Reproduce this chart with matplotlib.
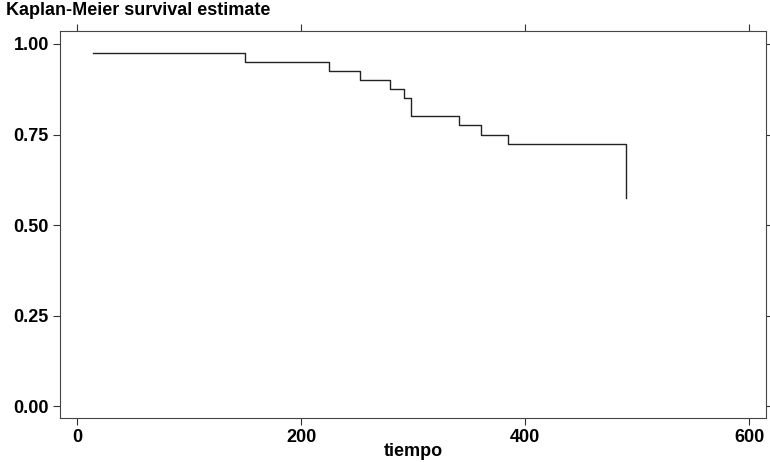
import matplotlib
matplotlib.use("Agg")
import matplotlib.pyplot as plt

# step times and survival estimates
tiempo = [14, 150, 225, 253, 279, 292, 298, 341, 361, 385, 490]
surv = [0.975, 0.950, 0.925, 0.900, 0.875, 0.850, 0.800, 0.775, 0.750, 0.725, 0.575]
xticks = [0, 200, 400, 600]
yticks = [0.00, 0.25, 0.50, 0.75, 1.00]
ylabels = ["0.00", "0.25", "0.50", "0.75", "1.00"]

plt.rcParams['font.family'] = ['Liberation Sans', 'DejaVu Sans']

fig = plt.figure(figsize=(7.7, 4.62), dpi=100)
ax = fig.add_axes([0.078, 0.095, 0.917, 0.838])

# step function: flat segments then drop at each time
xs = [tiempo[0]]
ys = [surv[0]]
for i in range(1, len(tiempo)):
    xs.append(tiempo[i])
    ys.append(surv[i - 1])
    xs.append(tiempo[i])
    ys.append(surv[i])
ax.plot(xs, ys, color='#222222', lw=1.0)

ax.set_xlim(-15, 615)
ax.set_ylim(-0.033, 1.036)
ax.set_xticks(xticks)
ax.set_yticks(yticks)
ax.set_yticklabels(ylabels)
ax.tick_params(direction='out', length=5, width=0.8, colors='#333333',
               top=True, right=True, labelsize=13, labelcolor='black', pad=3)
for lab in ax.get_xticklabels() + ax.get_yticklabels():
    lab.set_fontweight('bold')
for s in ax.spines.values():
    s.set_linewidth(0.8)
    s.set_color('#444444')

ax.set_xlabel("tiempo", fontsize=13, fontweight='bold', labelpad=-2)
fig.text(0.008, 0.978, "Kaplan-Meier survival estimate", fontsize=13,
         fontweight='bold', ha='left', va='center')

fig.savefig("out.png", dpi=100)
